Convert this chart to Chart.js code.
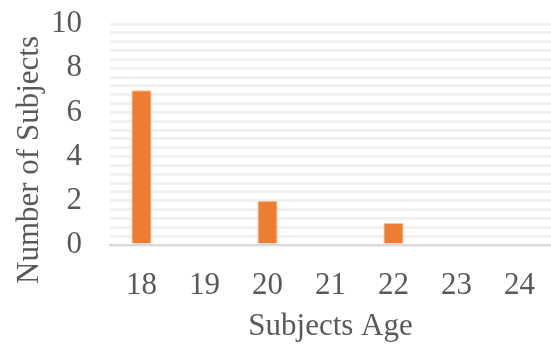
<!DOCTYPE html>
<html lang="en">
<head>
  <meta charset="UTF-8">
  <title>Subjects Age</title>
  <script src="https://cdn.jsdelivr.net/npm/chart.js"></script>
  <style>
    html, body { margin: 0; padding: 0; background: #fff; }
    .wrap { width: 551px; height: 345px; position: relative; }
  </style>
</head>
<body>
<div class="wrap">
  <canvas id="ageChart"></canvas>
</div>
<script>
  const ages = ['18', '19', '20', '21', '22', '23', '24'];
  const subjectCounts = [7, 0, 2, 0, 1, 0, 0];
  const yTickLabels = [0, 2, 4, 6, 8, 10];
  const yTitle = 'Number of Subjects';

  const textColor = '#595959';
  const serif = 'Liberation Serif, Times New Roman, serif';
  const fontSize = 31;

  function isLabelled(v) {
    return yTickLabels.some(t => Math.abs(t - v) < 1e-6);
  }

  // vertical axis title, centred a little lower than the plot area
  const yTitlePlugin = {
    id: 'yTitle',
    afterDraw(chart) {
      const c = chart.ctx;
      c.save();
      c.translate(38, 160);
      c.rotate(-Math.PI / 2);
      c.font = fontSize + 'px ' + serif;
      c.fillStyle = textColor;
      c.textAlign = 'center';
      c.textBaseline = 'alphabetic';
      c.fillText(yTitle, 0, 0);
      c.restore();
    }
  };

  const ctx = document.getElementById('ageChart').getContext('2d');
  new Chart(ctx, {
    type: 'bar',
    data: {
      labels: ages,
      datasets: [{
        label: yTitle,
        data: subjectCounts,
        backgroundColor: '#ed7d31',
        borderColor: '#f6c1a0',
        borderWidth: 1,
        barPercentage: 0.32,
        categoryPercentage: 1.0
      }]
    },
    options: {
      responsive: true,
      maintainAspectRatio: false,
      animation: false,
      layout: { padding: { top: 24, right: 0, left: 0, bottom: 0 } },
      plugins: {
        legend: { display: false },
        tooltip: { enabled: false }
      },
      scales: {
        x: {
          grid: { display: false, drawTicks: false },
          border: { color: '#d9d9d9', width: 2 },
          ticks: {
            color: textColor,
            font: { family: serif, size: fontSize },
            padding: 22,
            maxRotation: 0
          },
          title: {
            display: true,
            text: 'Subjects Age',
            color: textColor,
            font: { family: serif, size: fontSize },
            padding: { top: 2, bottom: 0 }
          },
          afterFit: s => {
            s.height = 100;
            // let the plot run to the right edge
            s.paddingLeft = 0;
            s.paddingRight = 0;
          }
        },
        y: {
          min: 0,
          max: 10,
          grid: { color: '#f0f0f0', lineWidth: 3, drawTicks: false },
          border: { display: false },
          ticks: {
            stepSize: 0.4,
            autoSkip: false,
            color: textColor,
            font: { family: serif, size: fontSize },
            padding: 28,
            callback: v => isLabelled(v) ? Math.round(v) : ''
          },
          afterFit: s => {
            s.width = 110;
            s.paddingTop = 0;
            s.paddingBottom = 0;
          }
        }
      }
    },
    plugins: [yTitlePlugin]
  });
</script>
</body>
</html>
